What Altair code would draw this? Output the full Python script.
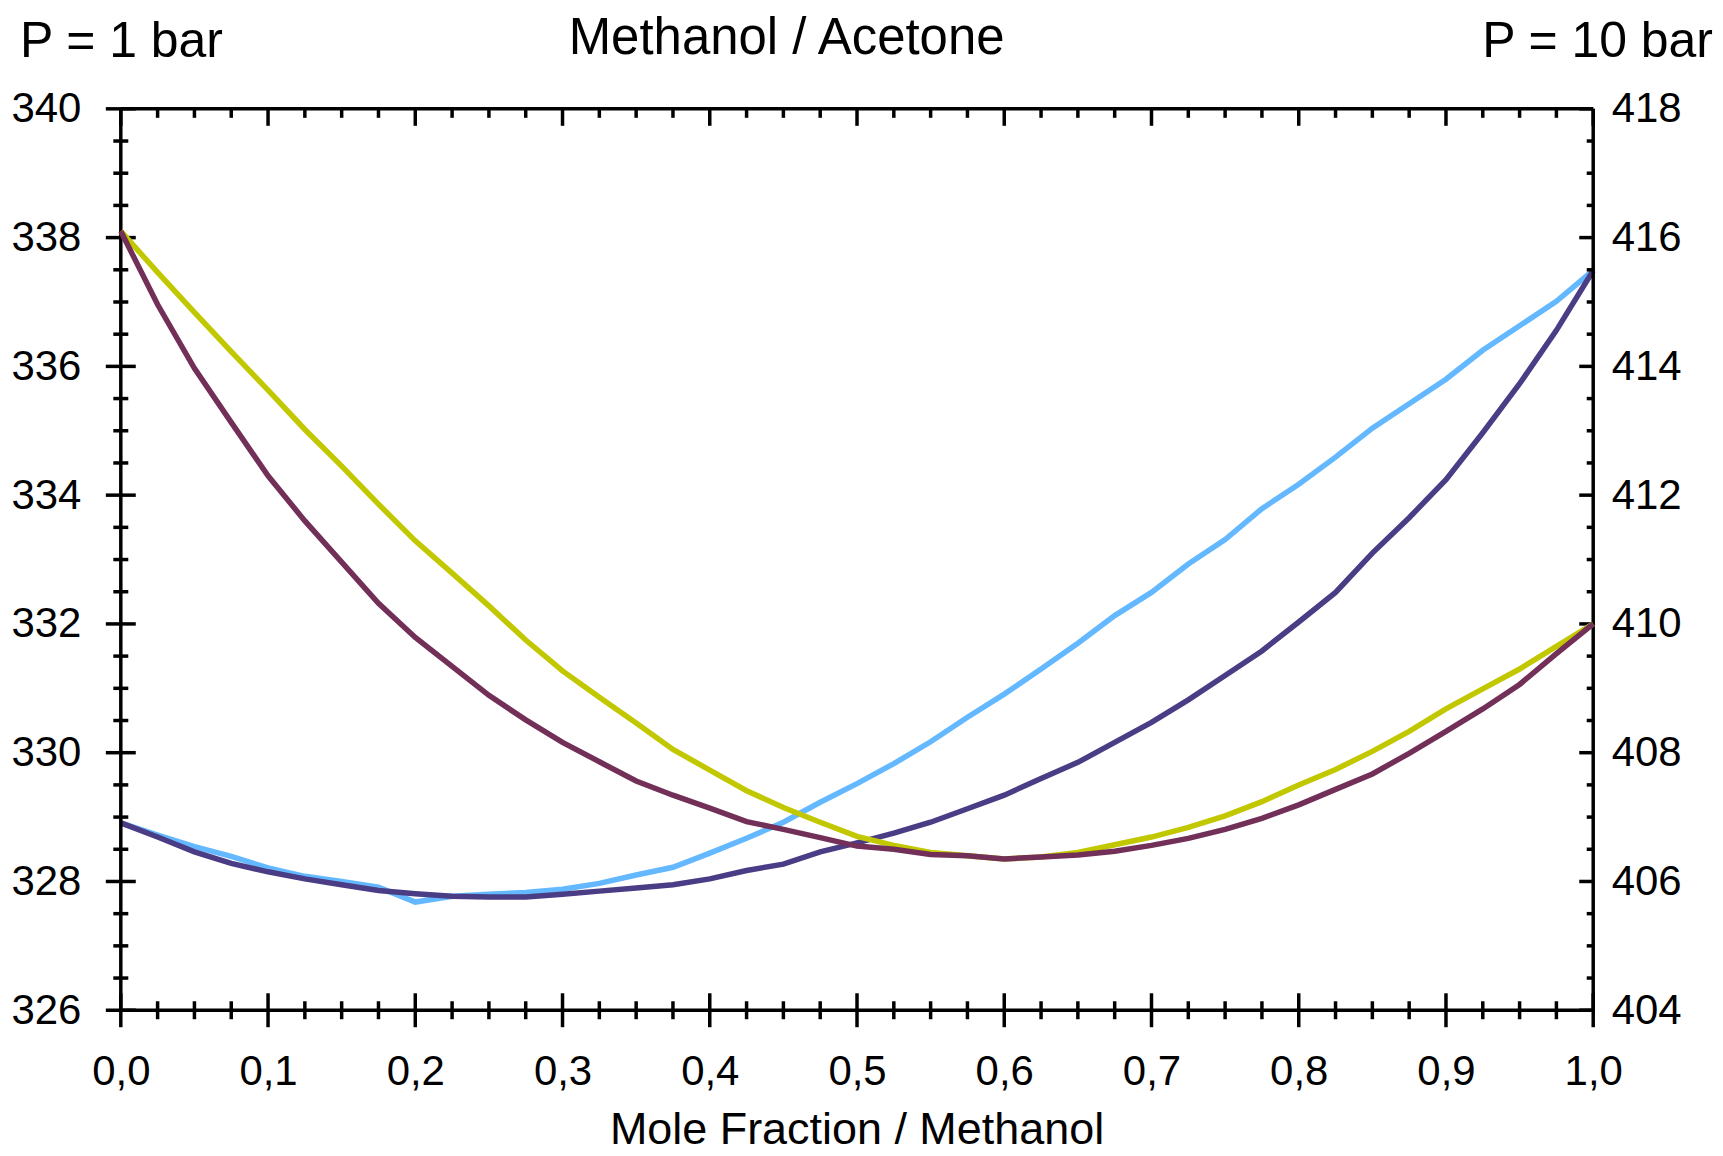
import altair as alt
import pandas as pd

# ---------------- data ----------------
x_frac = [0.0, 0.025, 0.05, 0.075, 0.1, 0.125, 0.15, 0.175, 0.2, 0.225,
          0.25, 0.275, 0.3, 0.325, 0.35, 0.375, 0.4, 0.425, 0.45, 0.475,
          0.5, 0.525, 0.55, 0.575, 0.6, 0.625, 0.65, 0.675, 0.7, 0.725,
          0.75, 0.775, 0.8, 0.825, 0.85, 0.875, 0.9, 0.925, 0.95, 0.975, 1.0]

# P = 1 bar (left axis, K)
t1_light = [328.91, 328.72, 328.54, 328.39, 328.21, 328.08, 328.00, 327.91, 327.68, 327.77,
            327.80, 327.83, 327.88, 327.97, 328.10, 328.22, 328.44, 328.67, 328.92, 329.23,
            329.52, 329.83, 330.17, 330.55, 330.91, 331.30, 331.70, 332.13, 332.49, 332.93,
            333.31, 333.79, 334.17, 334.59, 335.04, 335.42, 335.80, 336.25, 336.63, 337.01,
            337.49]
t1_dark = [328.91, 328.69, 328.46, 328.28, 328.15, 328.04, 327.95, 327.86, 327.81, 327.77,
           327.76, 327.76, 327.80, 327.85, 327.90, 327.95, 328.04, 328.17, 328.27, 328.46,
           328.60, 328.75, 328.92, 329.13, 329.34, 329.60, 329.85, 330.16, 330.47, 330.82,
           331.20, 331.58, 332.03, 332.49, 333.10, 333.65, 334.24, 334.97, 335.73, 336.56,
           337.49]

# P = 10 bar (right axis, K)
t10_yellow = [416.10, 415.46, 414.84, 414.23, 413.63, 413.02, 412.45, 411.86, 411.29, 410.79,
              410.28, 409.75, 409.27, 408.86, 408.46, 408.05, 407.73, 407.41, 407.15, 406.92,
              406.70, 406.56, 406.45, 406.40, 406.35, 406.38, 406.45, 406.57, 406.69, 406.84,
              407.02, 407.24, 407.50, 407.74, 408.02, 408.33, 408.68, 408.99, 409.30, 409.65,
              410.00]
t10_maroon = [416.10, 414.96, 413.97, 413.13, 412.30, 411.60, 410.96, 410.32, 409.79, 409.34,
              408.89, 408.51, 408.16, 407.86, 407.56, 407.34, 407.14, 406.93, 406.81, 406.68,
              406.55, 406.50, 406.42, 406.40, 406.35, 406.38, 406.41, 406.47, 406.56, 406.67,
              406.81, 406.98, 407.19, 407.43, 407.67, 407.99, 408.33, 408.68, 409.06, 409.54,
              410.00]

# axis tick values
x_major = [0.0, 0.1, 0.2, 0.3, 0.4, 0.5, 0.6, 0.7, 0.8, 0.9, 1.0]
x_minor = [0.025, 0.05, 0.075, 0.125, 0.15, 0.175, 0.225, 0.25, 0.275, 0.325, 0.35, 0.375,
           0.425, 0.45, 0.475, 0.525, 0.55, 0.575, 0.625, 0.65, 0.675, 0.725, 0.75, 0.775,
           0.825, 0.85, 0.875, 0.925, 0.95, 0.975]
yl_major = [326, 328, 330, 332, 334, 336, 338, 340]
yl_minor = [326.5, 327, 327.5, 328.5, 329, 329.5, 330.5, 331, 331.5, 332.5, 333, 333.5,
            334.5, 335, 335.5, 336.5, 337, 337.5, 338.5, 339, 339.5]
yr_major = [404, 406, 408, 410, 412, 414, 416, 418]

title_text = "Methanol / Acetone"
left_text = "P = 1 bar"
right_text = "P = 10 bar"
xtitle_text = "Mole Fraction / Methanol"

# ---------------- styling ----------------
W, H = 1475, 903
FONT = "Liberation Sans"
LBL = 42

xscale = alt.Scale(domain=[0, 1], nice=False, zero=False)
ylscale = alt.Scale(domain=[326, 340], nice=False, zero=False)
yrscale = alt.Scale(domain=[404, 418], nice=False, zero=False)

xaxis = alt.Axis(values=x_major, labelExpr="replace(format(datum.value, '.1f'), '.', ',')",
                 ticks=True, tickSize=0, tickWidth=0, domain=False, grid=False,
                 labelPadding=41, labelFontSize=LBL, labelFont=FONT, labelColor="black",
                 labelFlush=False, title=None)
ylaxis = alt.Axis(values=yl_major, format="d", ticks=True, tickSize=0, tickWidth=0,
                  domain=False, grid=False, labelPadding=40, labelFontSize=LBL,
                  labelFont=FONT, labelColor="black", title=None, orient="left")
yraxis = alt.Axis(values=yr_major, format="d", ticks=True, tickSize=0, tickWidth=0,
                  domain=False, grid=False, labelPadding=18, labelFontSize=LBL,
                  labelFont=FONT, labelColor="black", title=None, orient="right")

X = alt.X("x:Q", scale=xscale, axis=xaxis)
YL = alt.Y("y:Q", scale=ylscale, axis=ylaxis)
YR = alt.Y("y:Q", scale=yrscale, axis=yraxis)


def series(xs, ys):
    return pd.DataFrame({"x": xs, "y": ys})


def line(ys, color, yenc):
    return alt.Chart(series(x_frac, ys)).mark_line(
        color=color, strokeWidth=5.5, clip=False).encode(x=X, y=yenc)


light = line(t1_light, "#63B8FF", YL)
dark = line(t1_dark, "#4A3C85", YL)
yellow = line(t10_yellow, "#C2C800", YR)
maroon = line(t10_maroon, "#722F57", YR)

TK = dict(color="black", strokeWidth=3.5)


def yticks(vals, x1, x2):
    return alt.Chart(pd.DataFrame({"y": vals})).mark_rule(**TK).encode(
        y=YL, x=alt.value(x1), x2=alt.value(x2))


def xticks(vals, y1, y2):
    return alt.Chart(pd.DataFrame({"x": vals})).mark_rule(**TK).encode(
        x=X, y=alt.value(y1), y2=alt.value(y2))


ticks = [
    yticks(yl_major, -15, 15),
    yticks(yl_minor, -7.5, 7.5),
    yticks(yl_major, W - 14, W),
    yticks(yl_minor, W - 6.5, W),
    xticks(x_major, H - 17, H + 17),
    xticks(x_minor, H - 9, H + 9),
    xticks(x_major, 0, 17),
    xticks(x_minor, 0, 9),
]

# plot frame (the four axis lines)
frame_df = pd.DataFrame({"side": ["frame"]})
frame = [
    alt.Chart(frame_df).mark_rule(**TK).encode(x=alt.value(0), x2=alt.value(W), y=alt.value(0)),
    alt.Chart(frame_df).mark_rule(**TK).encode(x=alt.value(0), x2=alt.value(W), y=alt.value(H)),
    alt.Chart(frame_df).mark_rule(**TK).encode(x=alt.value(0), y=alt.value(0), y2=alt.value(H)),
    alt.Chart(frame_df).mark_rule(**TK).encode(x=alt.value(W), y=alt.value(0), y2=alt.value(H)),
]


def label(txt, px, py, align, size):
    return alt.Chart(pd.DataFrame({"t": [txt]})).mark_text(
        align=align, baseline="alphabetic", fontSize=size, font=FONT, color="black"
    ).encode(text="t:N", x=alt.value(px), y=alt.value(py))


texts = [
    label(title_text, 667, -55, "center", 51),
    label(left_text, -101, -52, "left", 50),
    label(right_text, 1595, -52, "right", 50),
    label(xtitle_text, W / 2, 1037, "center", 45),
]

left_group = alt.layer(light, dark, *ticks, *frame, *texts)
right_group = alt.layer(yellow, maroon)

chart = alt.layer(left_group, right_group).resolve_scale(y="independent").properties(
    width=W, height=H,
    autosize=alt.AutoSizeParams(type="none"),
    padding={"left": 113, "top": 100, "right": 122, "bottom": 144},
).configure_view(stroke=None).configure(background="white")

chart.save("out.html", embed_options={"renderer": "svg", "actions": False})
